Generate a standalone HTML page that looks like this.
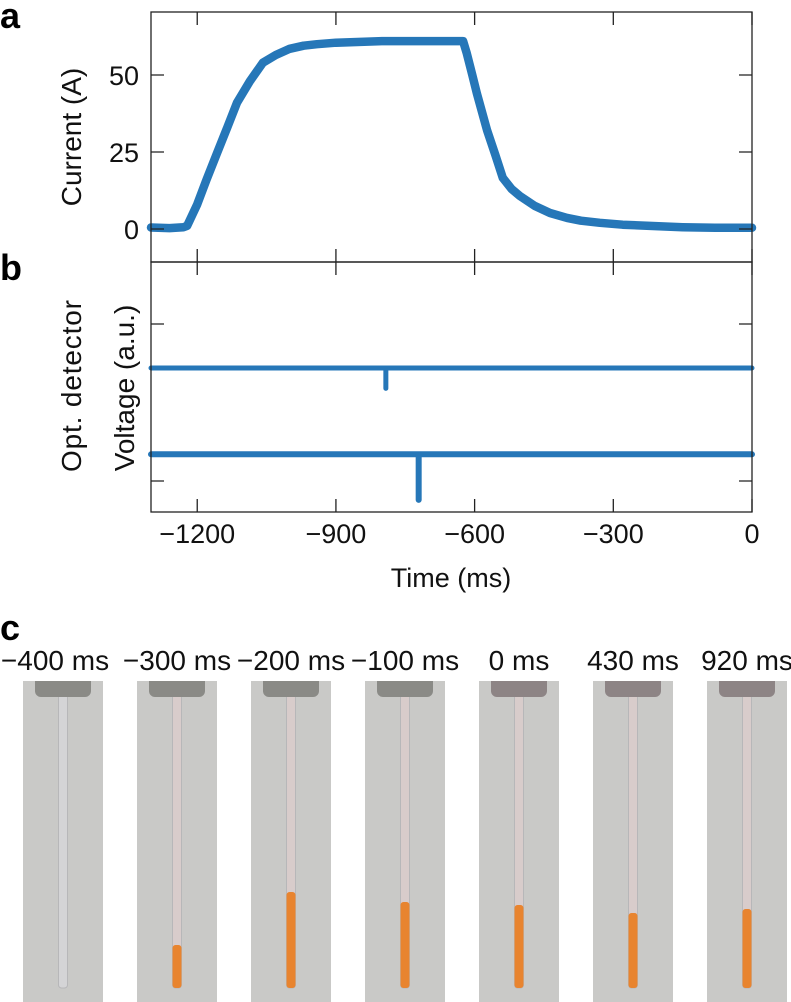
<!DOCTYPE html>
<html><head><meta charset="utf-8"><style>
html,body{margin:0;padding:0;background:#fff;}
svg{display:block;font-family:"Liberation Sans",sans-serif;}
</style></head><body>
<svg width="791" height="1002" viewBox="0 0 791 1002">
<g id="chart"></g>
<g id="photos"></g>
</svg>
<script>
const NS='http://www.w3.org/2000/svg';
// ---- data ----
const xTicks=[-1200,-900,-600,-300,0];
const xTickLabels=['\u22121200','\u2212900','\u2212600','\u2212300','0'];
const aTicks=[0,25,50];
const aTickLabels=['0','25','50'];
const bTicks=[0,1];
const curT=[-1300,-1260,-1230,-1222,-1200,-1180,-1157,-1135,-1114,-1086,-1058,-1030,-1000,-970,-941,-900,-800,-700,-640,-625,-617,-605,-595,-573,-555,-539,-520,-502,-470,-437,-400,-370,-329,-280,-221,-150,-80,0];
const curI=[0.5,0.3,0.6,1,8,16,24.7,33,41,48,54,56.5,58.5,59.5,60,60.5,61,61,61,61,57,50,44,32,24,16.6,13,10.7,7.5,5.2,3.6,2.7,2,1.4,1,0.6,0.4,0.4];
const det1Level=0.72, det2Level=0.17;
const spike1T=-792, spike1Min=0.59;
const spike2T=-721, spike2Min=-0.12;
const photoLabels=['\u2212400 ms','\u2212300 ms','\u2212200 ms','\u2212100 ms','0 ms','430 ms','920 ms'];
const orangeTop=[null,945,892,902,905,913,909];

// ---- axes ----
const L=151,R=752,aT=12,aB=262,bB=512;
const X=t=>L+(t+1300)/1300*(R-L);
const YA=v=>229-v*3.08;
const YB=v=>481-v*157;
const g=document.getElementById('chart');
function el(tag,attrs,parent){const e=document.createElementNS(NS,tag);for(const k in attrs)e.setAttribute(k,attrs[k]);(parent||g).appendChild(e);return e;}
function txt(s,attrs,parent){const e=el('text',attrs,parent);e.textContent=s;return e;}

const blue='#2677b8';
let d='';curT.forEach((t,i)=>{d+=(i?'L':'M')+X(t).toFixed(1)+' '+YA(curI[i]).toFixed(1);});
const cur=el('path',{d:d,fill:'none',stroke:blue,'stroke-width':8.5,'stroke-linejoin':'round','stroke-linecap':'round'});


const d1=el('path',{d:`M${X(-1300)} ${YB(det1Level)}H${R}M${X(spike1T)} ${YB(det1Level)}V${YB(spike1Min)}`,fill:'none',stroke:blue,'stroke-width':5,'stroke-linecap':'round'});


const d2=el('path',{d:`M${X(-1300)} ${YB(det2Level)}H${R}M${X(spike2T)} ${YB(det2Level)}V${YB(spike2Min)}`,fill:'none',stroke:blue,'stroke-width':6,'stroke-linecap':'round'});



const fa=el('rect',{x:L,y:aT,width:R-L,height:aB-aT,fill:'none',stroke:'#222','stroke-width':1.3});


const fb=el('rect',{x:L,y:aB,width:R-L,height:bB-aB,fill:'none',stroke:'#222','stroke-width':1.3});



xTicks.forEach((t,i)=>{
  const x=X(t);
  el('path',{d:`M${x} ${aT}v13M${x} ${aB-13}v26M${x} ${bB}v-13`,stroke:'#222','stroke-width':1.3});
  const lb=txt(xTickLabels[i],{x:x,y:543,'font-size':27,'text-anchor':'middle',fill:'#111'});
  
  
});
aTicks.forEach((v,i)=>{
  const y=YA(v);
  el('path',{d:`M${L} ${y}h13M${R} ${y}h-13`,stroke:'#222','stroke-width':1.3});
  const lb=txt(aTickLabels[i],{x:139,y:y+10,'font-size':27,'text-anchor':'end',fill:'#111'});
  
  
});
bTicks.forEach(v=>{const y=YB(v);el('path',{d:`M${L} ${y}h13M${R} ${y}h-13`,stroke:'#222','stroke-width':1.3});});

let t;
t=txt('Time (ms)',{x:451,y:587,'font-size':27,'text-anchor':'middle',fill:'#111'});


t=txt('Current (A)',{x:0,y:0,'font-size':28,'text-anchor':'middle',fill:'#111',transform:'translate(81,137) rotate(-90)'});


t=txt('Opt.  detector',{x:0,y:0,'font-size':28,'text-anchor':'middle',fill:'#111',transform:'translate(81,386) rotate(-90)',textLength:172,'xml:space':'preserve'});


t=txt('Voltage (a.u.)',{x:0,y:0,'font-size':28,'text-anchor':'middle',fill:'#111',transform:'translate(134,388) rotate(-90)'});


[['a',28],['b',280],['c',640]].forEach(p=>{
  const e=txt(p[0],{x:0,y:p[1],'font-size':36,'font-weight':'bold',fill:'#000'});
  
  
});

const pg=document.getElementById('photos');
photoLabels.forEach((s,i)=>{
  const x0=23+i*114, cx=x0+40;
  const lb=txt(s,{x:cx-(i==0?8:0),y:670,'font-size':28,'text-anchor':'middle',fill:'#111'},pg);
  
  
  const bg=el('rect',{x:x0,y:681,width:80,height:321,fill:'#c9c9c7'},pg);
  
  
  el('rect',{x:cx-4.5,y:690,width:9,height:298,rx:3,fill:i==0?'#d4d4d6':'#d8cccb',stroke:'#b7b7b9','stroke-width':1},pg);
  if(orangeTop[i]!==null){
    el('rect',{x:cx-4.5,y:orangeTop[i],width:9,height:988-orangeTop[i],rx:3,fill:'#e8842f'},pg);
  }
  el('path',{d:`M${cx-28} 681h56v10a6 6 0 0 1 -6 6h-44a6 6 0 0 1 -6 -6z`,fill:i>=4?'#8d8485':'#8a8a86'},pg);
});
</script>
</body></html>
